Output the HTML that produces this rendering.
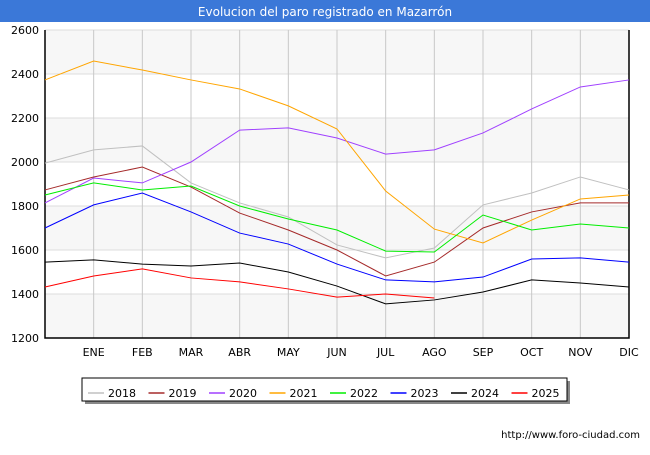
<!DOCTYPE html>
<html><head><meta charset="utf-8"><style>
body{margin:0;background:#fff;font-family:"Liberation Sans","DejaVu Sans",sans-serif}
</style></head><body>
<svg width="650" height="450" xmlns="http://www.w3.org/2000/svg">
<rect width="650" height="450" fill="#fff"/>
<rect x="0" y="0" width="650" height="22" fill="#3b78d8"/>
<text x="325" y="16" text-anchor="middle" fill="#fff" font-size="12" font-family="DejaVu Sans, sans-serif">Evolucion del paro registrado en Mazarrón</text>
<g id="plot"></g>
<text x="640" y="438" text-anchor="end" font-size="10" font-family="DejaVu Sans, sans-serif" fill="#000">http://www.foro-ciudad.com</text>
</svg>
<script>
const months=["","ENE","FEB","MAR","ABR","MAY","JUN","JUL","AGO","SEP","OCT","NOV","DIC"];
const yTicks=[1200,1400,1600,1800,2000,2200,2400,2600];
const years=["2018","2019","2020","2021","2022","2023","2024","2025"];
const colors=["#c0c0c0","#a52a2a","#a040ff","#ffa500","#00ee00","#0000ff","#000000","#ff0000"];
const s2018=[1995,2055,2073,1905,1814,1750,1623,1564,1609,1805,1859,1932,1873];
const s2019=[1873,1932,1977,1886,1768,1691,1600,1482,1545,1700,1773,1814,1814];
const s2020=[1814,1927,1905,2000,2145,2155,2109,2036,2055,2132,2241,2341,2373];
const s2021=[2373,2459,2418,2373,2332,2255,2150,1868,1695,1632,1736,1832,1850];
const s2022=[1850,1905,1873,1891,1800,1741,1691,1595,1591,1759,1691,1718,1700];
const s2023=[1700,1805,1859,1773,1677,1627,1536,1464,1455,1477,1559,1564,1545];
const s2024=[1545,1555,1536,1527,1541,1500,1436,1355,1373,1409,1464,1450,1432];
const s2025=[1432,1482,1514,1473,1455,1423,1386,1400,1382];
const series=[s2018,s2019,s2020,s2021,s2022,s2023,s2024,s2025];
const NS="http://www.w3.org/2000/svg";
const L=45,R=629,T=30,B=338;
const x=i=>L+i*(R-L)/12;
const y=v=>B-(v-1200)*(B-T)/1400;
const g=document.getElementById("plot");
function mk(t,a){const e=document.createElementNS(NS,t);for(const k in a)e.setAttribute(k,a[k]);g.appendChild(e);return e;}
for(let i=0;i<yTicks.length-1;i++){
  if(i%2===0){const r=mk("rect",{x:L,y:y(yTicks[i+1]),width:R-L,height:y(yTicks[i])-y(yTicks[i+1]),fill:"#f7f7f7"});
  
  }
}
yTicks.forEach(v=>{
  const l=mk("line",{x1:L,x2:R,y1:y(v),y2:y(v),stroke:"#dddddd","stroke-width":1});
  
  
  const t=mk("text",{x:L-6,y:y(v)+4,"text-anchor":"end","font-size":11,"font-family":"DejaVu Sans, sans-serif"});
  t.textContent=v;
  
  
});
months.forEach((m,i)=>{
  if(i===0)return;
  const l=mk("line",{x1:x(i),x2:x(i),y1:T,y2:B,stroke:"#c8c8c8","stroke-width":1});
  
  
  const t=mk("text",{x:x(i),y:B+18,"text-anchor":"middle","font-size":11,"font-family":"DejaVu Sans, sans-serif"});
  t.textContent=m;
  
  
});
const ax=mk("path",{d:`M${L},${T}V${B}H${R}V${T}`,fill:"none",stroke:"#000","stroke-width":1.5});


series.forEach((s,k)=>{
  const p=mk("polyline",{points:s.map((v,i)=>x(i)+","+y(v)).join(" "),fill:"none",stroke:colors[k],"stroke-width":1});
  
  
});
const sh=mk("rect",{x:85,y:381,width:485,height:23,fill:"#888"});


const lb=mk("rect",{x:82,y:378,width:485,height:23,fill:"#fff",stroke:"#000","stroke-width":1});


years.forEach((yr,k)=>{
  const lx=88+k*60.5;
  const l=mk("line",{x1:lx,x2:lx+16,y1:393,y2:393,stroke:colors[k],"stroke-width":1.5});
  
  
  const t=mk("text",{x:lx+20,y:397,"font-size":11,"font-family":"DejaVu Sans, sans-serif"});
  t.textContent=yr;
  
  
});
</script>
</body></html>
